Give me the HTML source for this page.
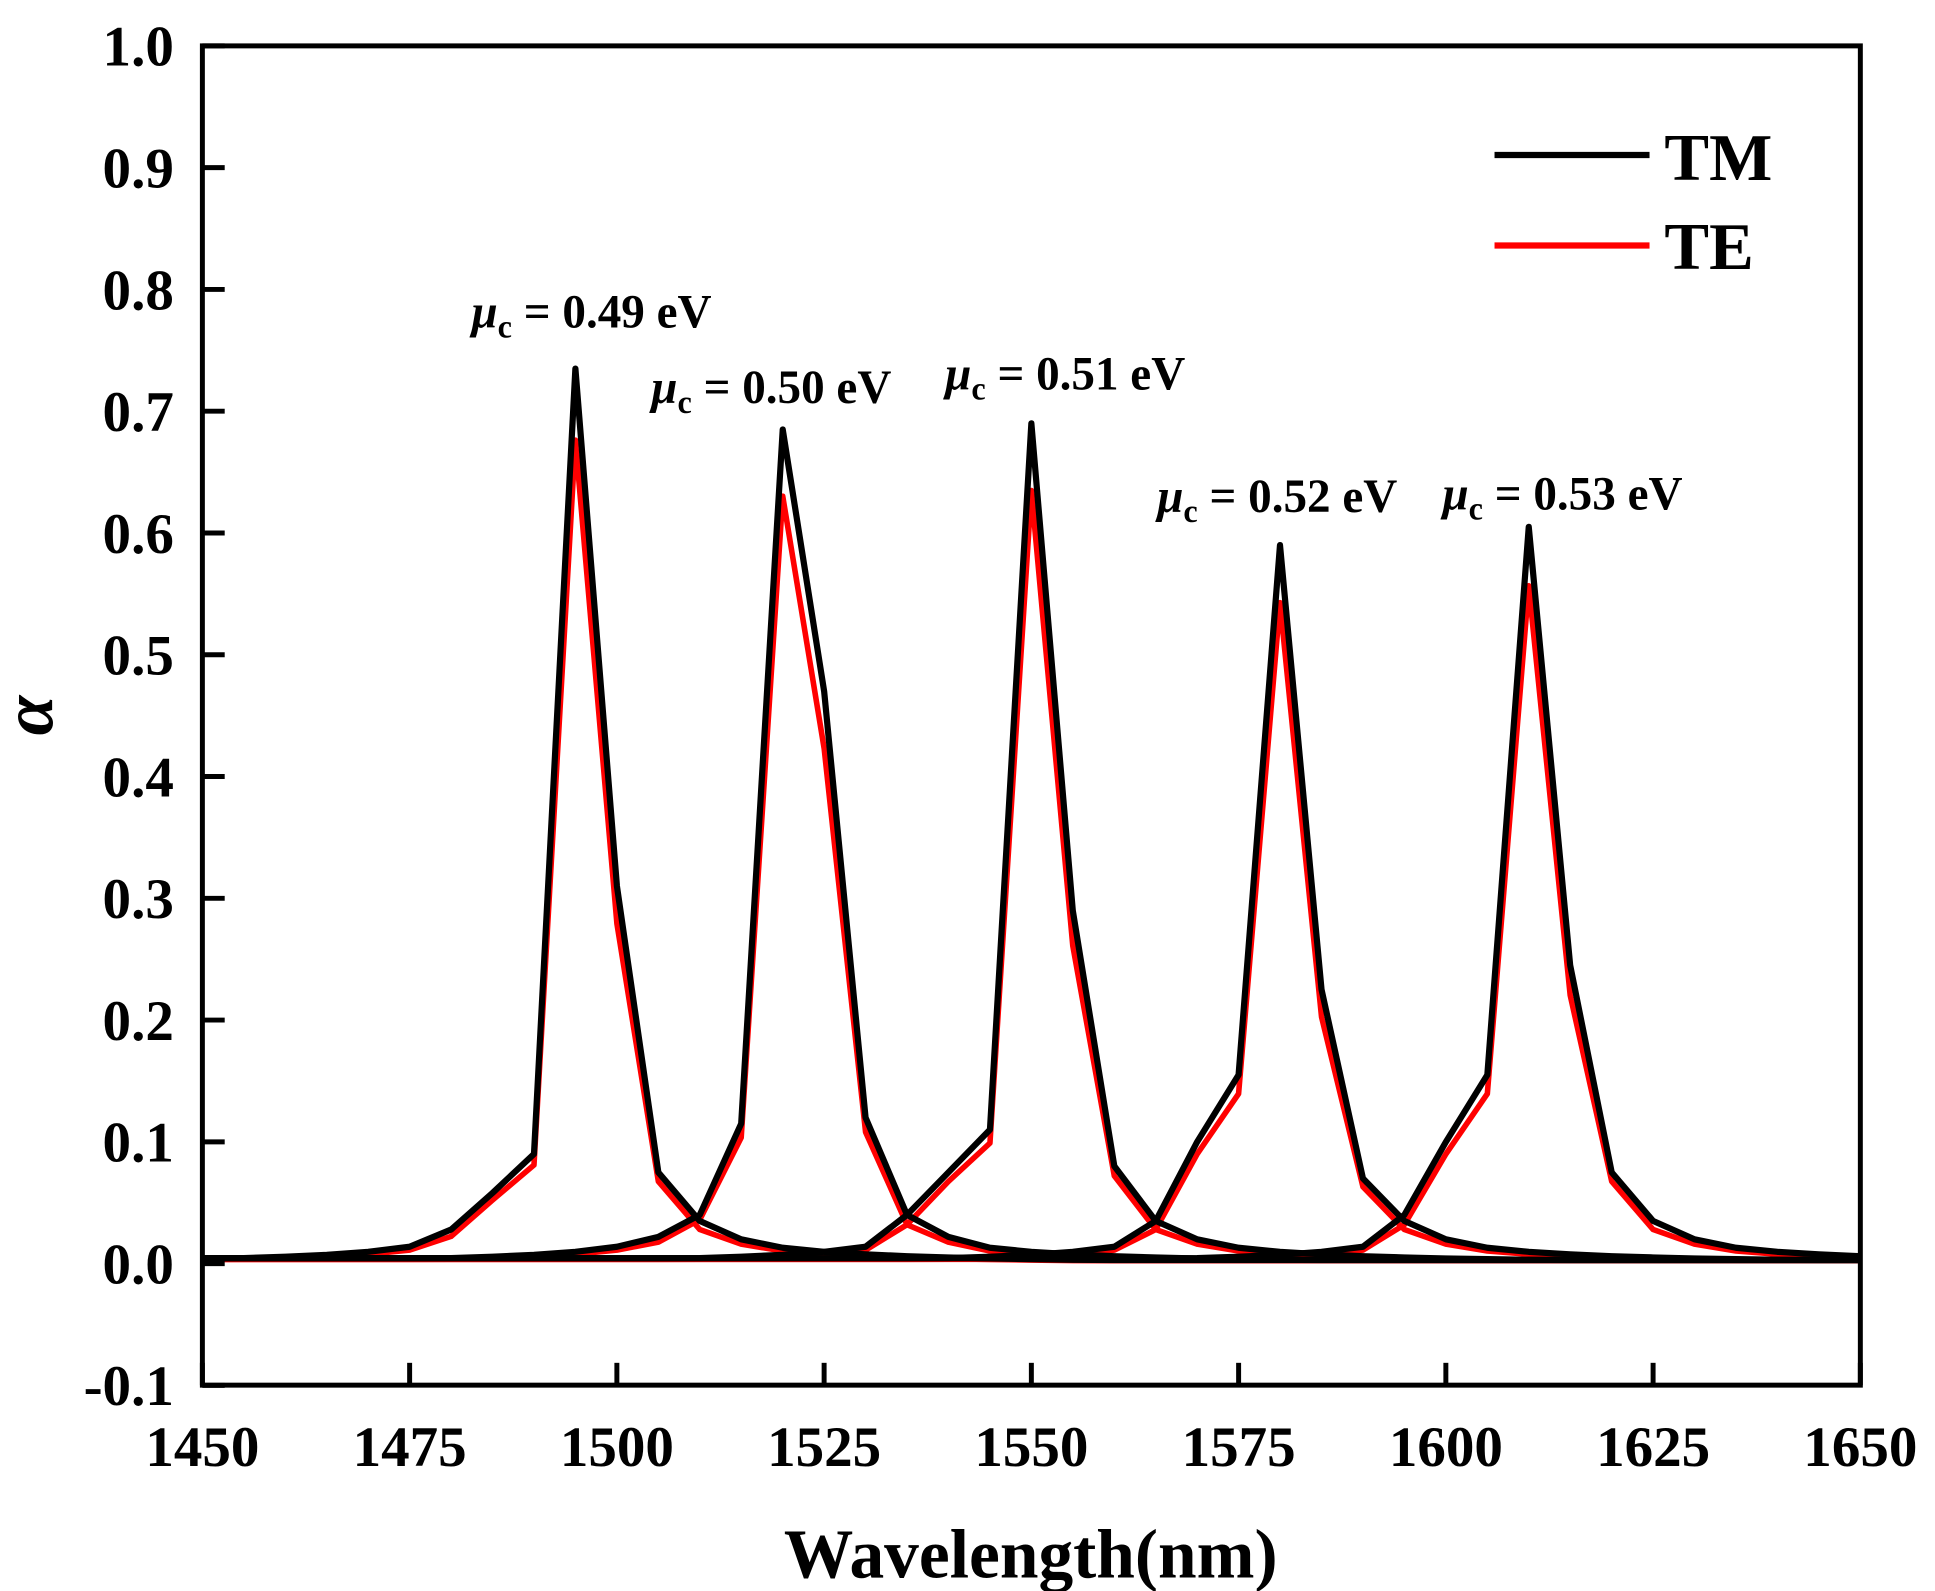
<!DOCTYPE html>
<html><head><meta charset="utf-8"><style>
html,body{margin:0;padding:0;background:#fff;}
svg{display:block;}
text{font-family:"Liberation Serif",serif;font-weight:bold;}
</style></head><body>
<svg id="s" width="1935" height="1591" viewBox="0 0 1560 1283" xmlns="http://www.w3.org/2000/svg">
<rect width="1560" height="1283" fill="#fff"/>
<g id="curves" fill="none" stroke-linejoin="round"></g>
<rect x="163" y="37" width="1337" height="1080" fill="none" stroke="#000" stroke-width="4"/>
<g id="ticks" stroke="#000" stroke-width="4"></g>
<g id="labels" font-size="46" fill="#000"></g>
<text x="831" y="1272" font-size="56" text-anchor="middle">Wavelength(nm)</text>
<text x="42" y="577" font-size="58" font-style="italic" text-anchor="middle" transform="rotate(-90 42 577)">α</text>
<line x1="1205" y1="125" x2="1330" y2="125" stroke="#000" stroke-width="5"/>
<line x1="1205" y1="198" x2="1330" y2="198" stroke="#f00" stroke-width="5"/>
<text x="1342" y="145" font-size="54">TM</text>
<text x="1342" y="217" font-size="54">TE</text>
<g font-size="38">
<text x="380" y="264"><tspan font-style="italic">μ</tspan><tspan font-size="26" dy="8">c</tspan><tspan dy="-8"> = 0.49 eV</tspan></text>
<text x="525" y="325"><tspan font-style="italic">μ</tspan><tspan font-size="26" dy="8">c</tspan><tspan dy="-8"> = 0.50 eV</tspan></text>
<text x="762" y="314"><tspan font-style="italic">μ</tspan><tspan font-size="26" dy="8">c</tspan><tspan dy="-8"> = 0.51 eV</tspan></text>
<text x="933" y="413"><tspan font-style="italic">μ</tspan><tspan font-size="26" dy="8">c</tspan><tspan dy="-8"> = 0.52 eV</tspan></text>
<text x="1163" y="411"><tspan font-style="italic">μ</tspan><tspan font-size="26" dy="8">c</tspan><tspan dy="-8"> = 0.53 eV</tspan></text>
</g>
</svg>
<script>
var X=function(w){return 163+(w-1450)*1337/200;};
var Y=function(a){return 1019-a*982;};
var ns="http://www.w3.org/2000/svg";
var tk=document.getElementById('ticks'),lb=document.getElementById('labels');
function el(p,t,a,txt){var e=document.createElementNS(ns,t);for(var k in a)e.setAttribute(k,a[k]);if(txt)e.textContent=txt;p.appendChild(e);}
for(var i=-1;i<=10;i++){var y=Y(i/10);el(tk,'line',{x1:163,y1:y,x2:181,y2:y});
 el(lb,'text',{x:140,y:y+16,'text-anchor':'end'},(i<0?'-':'')+(Math.abs(i)/10).toFixed(1));}
for(var w=1450;w<=1650;w+=25){var x=X(w);el(tk,'line',{x1:x,y1:1117,x2:x,y2:1099});
 el(lb,'text',{x:x,y:1182,'text-anchor':'middle'},String(w));}
var P=[
 [1495,[.028,.058,.09,.735,.31,.075,.035,.02]],
 [1520,[.022,.04,.115,.685,.47,.12,.04,.022]],
 [1550,[.04,.075,.11,.69,.29,.08,.035,.02]],
 [1580,[.035,.1,.155,.59,.225,.07,.035,.02]],
 [1610,[.04,.1,.155,.605,.245,.075,.035,.02]]];
var cg=document.getElementById('curves');
function draw(te){
 P.forEach(function(p){var c=p[0],v=p[1],pts=[];
  for(var w=1450;w<=1650;w+=5){var d=w-c,a;
   var idx=d/5+3;
   if(idx>=0&&idx<=7){a=v[idx];}
   else if(d<0){a=Math.max(0.0045,0.022*Math.pow(15/Math.abs(d),1.6));}
   else {a=Math.max(0.003,0.013*Math.pow(25/d,1.6));}
   if(te){a=(d==0)?a*0.92:(Math.abs(d)<=10?a*0.9:a*0.8);}
   pts.push(X(w).toFixed(1)+','+Y(a).toFixed(1));}
  el(cg,'polyline',{points:pts.join(' '),stroke:te?'#f00':'#000','stroke-width':te?4.5:5});
 });}
draw(true);draw(false);
</script>
</body></html>
